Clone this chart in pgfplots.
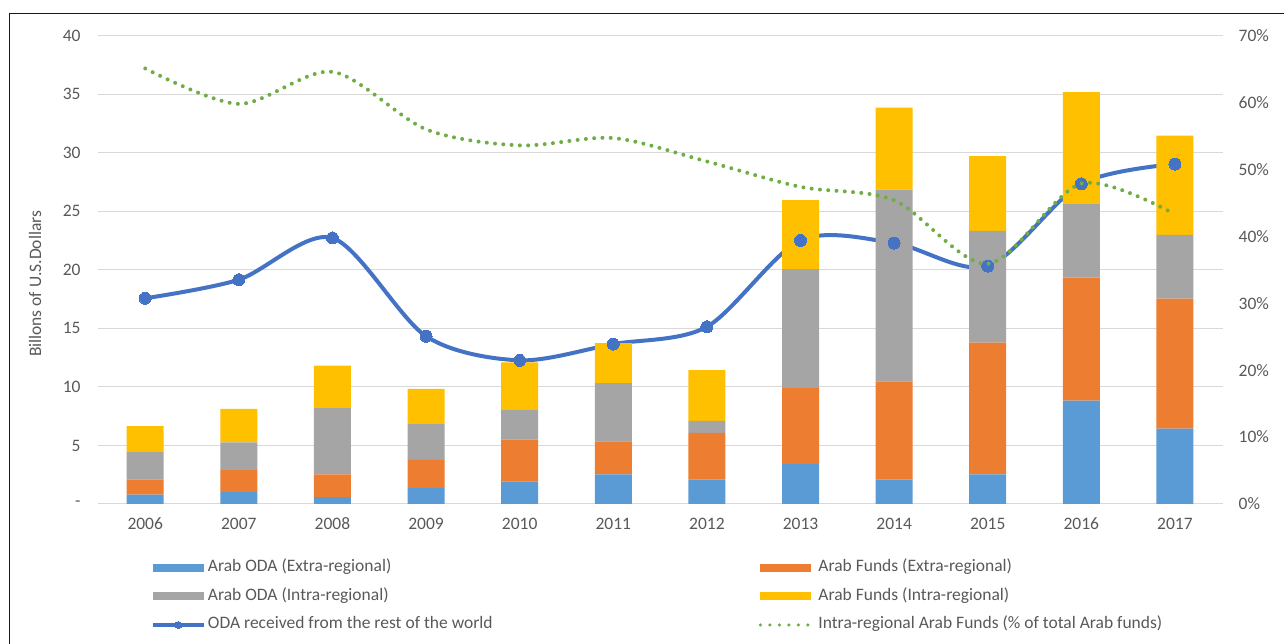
\documentclass[border=0pt]{standalone}
\usepackage{pgfplots}
\usepackage{pgfplotstable}
\pgfplotsset{compat=1.18}
\usepackage{fontspec}
\setmainfont{Carlito}
\definecolor{cBlue}{HTML}{5B9BD5}
\definecolor{cOrange}{HTML}{ED7D31}
\definecolor{cGray}{HTML}{A5A5A5}
\definecolor{cYellow}{HTML}{FFC000}
\definecolor{cLine}{HTML}{4472C4}
\definecolor{cGreen}{HTML}{70AD47}
\definecolor{gridgray}{HTML}{D9D9D9}
\definecolor{textgray}{HTML}{595959}

\pgfplotsset{
  barlegend/.style={legend image code/.code={\fill[##1] (0pt,-4pt) rectangle (51pt,4pt);}},
  linelegend/.style={legend image code/.code={\draw[mark repeat=2,mark phase=2,##1,mark size=3.5pt] plot coordinates {(0pt,0pt) (25.5pt,0pt) (51pt,0pt)};}},
  dotlegend/.style={legend image code/.code={\draw[##1] (0pt,0pt) -- (51pt,0pt);}},
}

\pgfplotstableread{
x a b c d oda pct
0 0.81 1.27 2.41 2.17 17.57 65.1
1 1.01 1.88 2.38 2.86 19.16 59.8
2 0.58 1.94 5.73 3.56 22.72 64.6
3 1.36 2.40 3.13 2.95 14.33 56.0
4 1.94 3.56 2.52 4.08 12.27 53.6
5 2.52 2.83 4.98 3.42 13.66 54.7
6 2.08 4.00 1.01 4.34 15.14 51.2
7 3.42 6.48 10.16 5.90 22.52 47.4
8 2.08 8.40 16.38 7.00 22.29 45.4
9 2.52 11.26 9.55 6.39 20.32 35.9
10 8.83 10.50 6.29 9.55 27.35 47.9
11 6.43 11.11 5.44 8.48 29.03 43.3
}\datatable

\newcommand{\chartfont}{\fontsize{17.5}{20}\selectfont}

\begin{document}
\begin{tikzpicture}[x=1pt,y=1pt]
\begin{axis}[
  at={(97.5pt,140pt)}, anchor=south west, scale only axis,
  width=1125.2pt, height=468.3pt,
  xmin=-0.51, xmax=11.51, ymin=0, ymax=40,
  ybar stacked, bar width=37pt,
  xtick={0,...,11},
  xticklabels={2006,2007,2008,2009,2010,2011,2012,2013,2014,2015,2016,2017},
  ytick={0,5,...,40},
  yticklabels={-\hspace{7pt},5,10,15,20,25,30,35,40},
  ymajorgrids, grid style={draw=gridgray, line width=1pt},
  axis line style={draw=none}, major tick length=0pt,
  tick label style={font=\chartfont, text=textgray},
  xticklabel style={yshift=-10.5pt},
  yticklabel style={xshift=-13.4pt},
  ylabel={Billons of U.S.Dollars},
  every axis y label/.style={at={(axis description cs:-0.0555,0.47)}, rotate=90, anchor=center, font=\chartfont, text=textgray},
  legend columns=2,
  legend cell align=left,
  legend style={draw=none, fill=none, at={(axis description cs:0.0475,-0.1153)}, anchor=north west,
    inner sep=0pt, outer sep=0pt, row sep=8.5pt, font=\chartfont, text=textgray,
    nodes={inner sep=2pt, text height=12pt, text depth=4pt},
    /tikz/column 1/.style={column sep=0pt},
    /tikz/column 2/.style={column sep=264pt},
    /tikz/column 3/.style={column sep=3.3pt}},
]
\addplot[fill=cBlue, draw=none, barlegend] table[x=x,y=a]{\datatable};
\addlegendentry{Arab ODA (Extra-regional)}
\addplot[fill=cOrange, draw=none, barlegend] table[x=x,y=b]{\datatable};
\addlegendentry{Arab Funds (Extra-regional)}
\addplot[fill=cGray, draw=none, barlegend] table[x=x,y=c]{\datatable};
\addlegendentry{Arab ODA (Intra-regional)}
\addplot[fill=cYellow, draw=none, barlegend] table[x=x,y=d]{\datatable};
\addlegendentry{Arab Funds (Intra-regional)}
\addplot[stack plots=false, smooth, tension=0.5, draw=cLine, line width=4pt, mark=*, mark size=6pt, mark options={fill=cLine, draw=cLine, line width=0pt}, linelegend] table[x=x,y=oda]{\datatable};
\addlegendentry{ODA received from the rest of the world}
\addlegendimage{draw=cGreen, line width=3.5pt, line cap=round, dash pattern=on 0pt off 9.5pt, dotlegend}
\addlegendentry{Intra-regional Arab Funds (\% of total Arab funds)}
\end{axis}

\begin{axis}[
  at={(97.5pt,140pt)}, anchor=south west, scale only axis,
  width=1125.2pt, height=468.3pt,
  xmin=-0.51, xmax=11.51, ymin=0, ymax=70,
  axis y line*=right, axis x line=none, xtick=\empty,
  ytick={0,10,...,70},
  yticklabels={0\%,10\%,20\%,30\%,40\%,50\%,60\%,70\%},
  axis line style={draw=none}, major tick length=0pt,
  tick label style={font=\chartfont, text=textgray},
  yticklabel style={xshift=12.5pt},
]
\addplot[smooth, tension=0.5, draw=cGreen, line width=4pt, line cap=round, dash pattern=on 0pt off 8.3pt] table[x=x,y=pct]{\datatable};
\end{axis}

\draw[line width=1.5pt, black!90] (9.5,0) -- (9.5,630.5) -- (1284,630.5);
\pgfresetboundingbox
\useasboundingbox (0,0) rectangle (1284,644);
\end{tikzpicture}
\end{document}
